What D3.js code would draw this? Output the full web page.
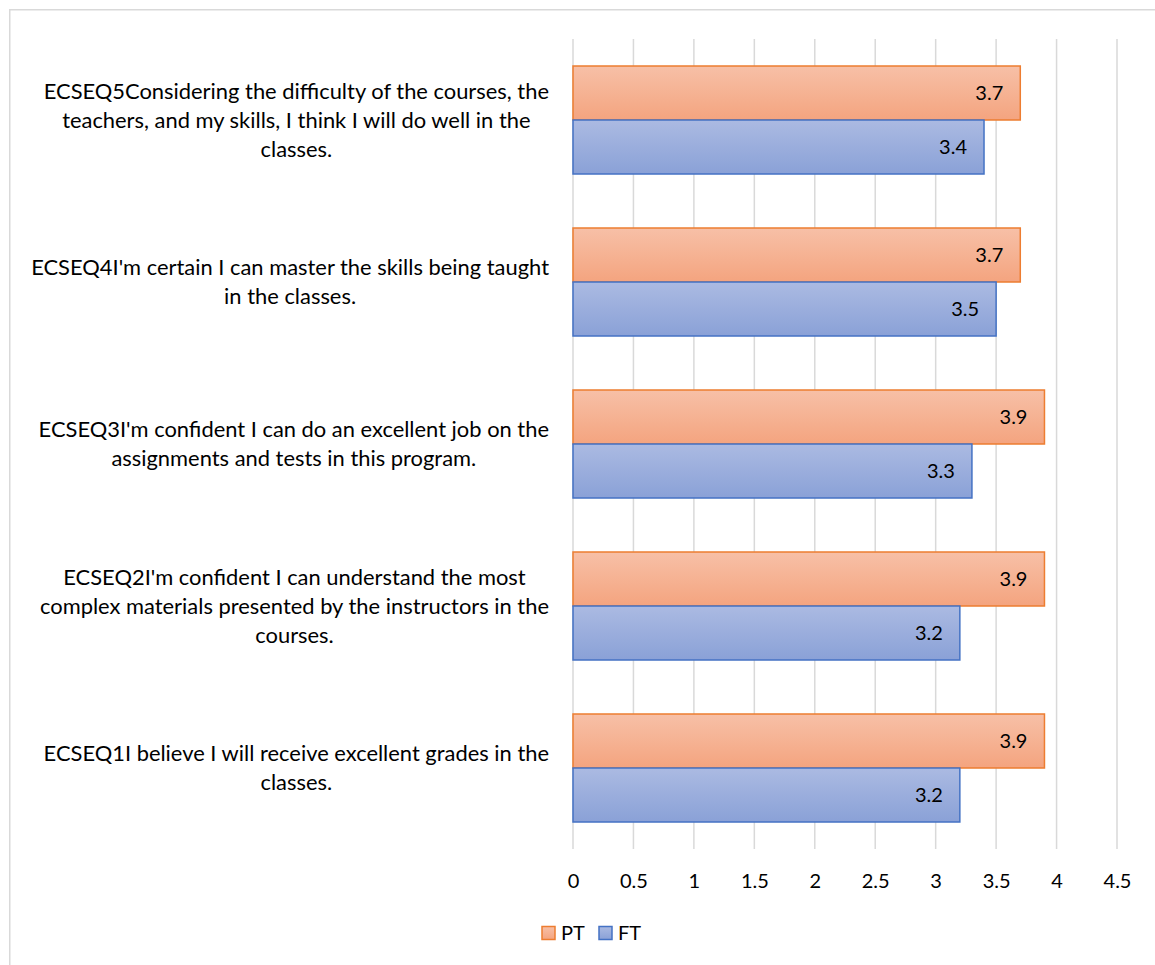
<!DOCTYPE html>
<html><head><meta charset="utf-8">
<script src="https://cdn.jsdelivr.net/npm/d3@7"></script>
<style>body{margin:0;background:#fff}svg{display:block}text{font-family:Lato,sans-serif}</style>
</head><body><svg id="c" width="1155" height="965"></svg>
<script>
const categories = ["ECSEQ5","ECSEQ4","ECSEQ3","ECSEQ2","ECSEQ1"];
const labelLines = [
  ["ECSEQ5Considering the difficulty of the courses, the","teachers, and my skills, I think I will do well in the","classes."],
  ["ECSEQ4I'm certain I can master the skills being taught","in the classes."],
  ["ECSEQ3I'm confident I can do an excellent job on the","assignments and tests in this program."],
  ["ECSEQ2I'm confident I can understand the most","complex materials presented by the instructors in the","courses."],
  ["ECSEQ1I believe I will receive excellent grades in the","classes."]
];
const seriesNames = ["PT","FT"];
const ptValues = [3.7,3.7,3.9,3.9,3.9];
const ftValues = [3.4,3.5,3.3,3.2,3.2];
const xTicks = [0,0.5,1,1.5,2,2.5,3,3.5,4,4.5];

const FONT = "Lato";
const svg = d3.select("#c");
const defs = svg.append("defs");
function grad(id, c1, c2){
  const g = defs.append("linearGradient").attr("id",id).attr("x1",0).attr("y1",0).attr("x2",0).attr("y2",1);
  g.append("stop").attr("offset","0%").attr("stop-color",c1);
  g.append("stop").attr("offset","100%").attr("stop-color",c2);
}
grad("gPT","#f7c0a7","#f4a47f");
grad("gFT","#abbae2","#8aa1d7");
const fills = {PT:"url(#gPT)", FT:"url(#gFT)"};
const strokes = {PT:"#ed7d31", FT:"#4472c4"};

svg.append("rect").attr("x",9.75).attr("y",9.75).attr("width",1160).attr("height",1000)
  .attr("fill","none").attr("stroke","#d9d9d9").attr("stroke-width",1.5);

const x = d3.scaleLinear().domain([0,4.5]).range([573,1117]);
const y = d3.scaleBand().domain(categories).range([39,849]).paddingInner(1/3).paddingOuter(1/6);
const ys = d3.scaleBand().domain(seriesNames).range([0,y.bandwidth()]);

// gridlines
svg.append("g").selectAll("line").data(xTicks).join("line")
  .attr("x1",d=>x(d)).attr("x2",d=>x(d)).attr("y1",39).attr("y2",849)
  .attr("stroke","#d9d9d9").attr("stroke-width",1.5);

// axis labels
const xAxis = d3.axisBottom(x).tickValues(xTicks).tickSize(0).tickPadding(0).tickFormat(d=>String(d));
const ax = svg.append("g").attr("transform","translate(0,881)").call(xAxis);
ax.select(".domain").remove();
ax.selectAll("text").attr("font-size",20).attr("fill","#000").attr("y",0).attr("dy","0.35em")
  .attr("font-family",FONT);

// bars
const rows = categories.map((c,i)=>({cat:c, PT:ptValues[i], FT:ftValues[i]}));
const gRows = svg.append("g").selectAll("g").data(rows).join("g")
  .attr("transform",d=>`translate(0,${y(d.cat)})`);
gRows.selectAll("rect").data(d=>seriesNames.map(s=>({s, v:d[s]}))).join("rect")
  .attr("x",x(0)).attr("y",d=>ys(d.s)).attr("width",d=>x(d.v)-x(0)).attr("height",ys.bandwidth())
  .attr("fill",d=>fills[d.s]).attr("stroke",d=>strokes[d.s]).attr("stroke-width",1.5);
gRows.selectAll("text").data(d=>seriesNames.map(s=>({s, v:d[s]}))).join("text")
  .attr("x",d=>x(d.v)-17).attr("y",d=>ys(d.s)+ys.bandwidth()/2).attr("dy","0.35em")
  .attr("text-anchor","end").attr("font-size",20).attr("fill","#000").text(d=>d3.format(".1f")(d.v));

// category labels (block right-aligned at 549, lines centered within block)
const lh = 29;
const lab = svg.append("g");
categories.forEach((c,i)=>{
  const lines = labelLines[i];
  const cy = y(c)+y.bandwidth()/2;
  const t = lab.append("text").attr("text-anchor","middle").attr("font-size",21.9).attr("fill","#000");
  const spans = lines.map((ln,j)=>t.append("tspan").attr("x",0).attr("y",cy+(j-(lines.length-1)/2)*lh).attr("dy","0.35em").text(ln));
  let w = 0;
  spans.forEach(s=>{ w = Math.max(w, s.node().getComputedTextLength()); });
  spans.forEach(s=>s.attr("x",549 - w/2));
});

// legend
const leg = svg.append("g").attr("transform","translate(542,933)");
seriesNames.forEach((s,i)=>{
  const g = leg.append("g").attr("transform",`translate(${i*57},0)`);
  g.append("rect").attr("x",0).attr("y",-6.5).attr("width",13).attr("height",13)
    .attr("fill",fills[s]).attr("stroke",strokes[s]).attr("stroke-width",1.5);
  g.append("text").attr("x",19).attr("y",0).attr("dy","0.35em").attr("font-size",20).attr("fill","#000").text(s);
});
</script></body></html>
